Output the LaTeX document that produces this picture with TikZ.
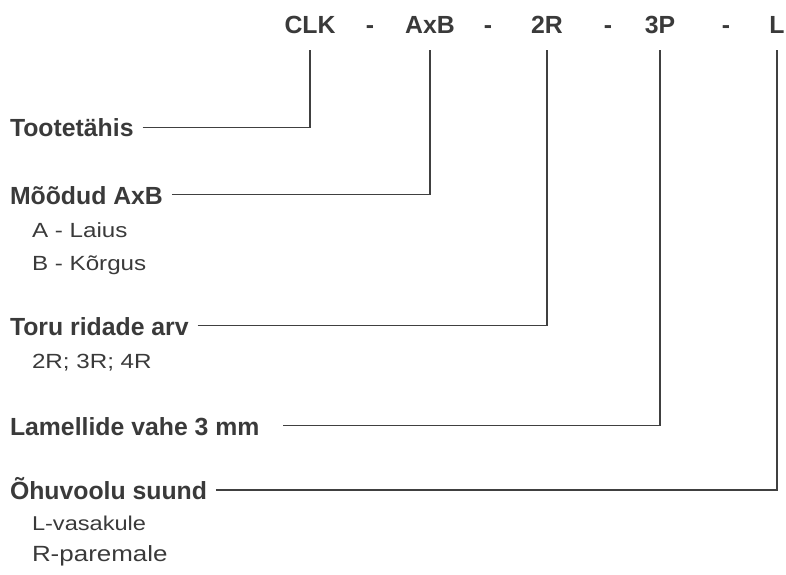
\documentclass[tikz,border=0pt]{standalone}
\usepackage{fontspec}
\setmainfont{Liberation Sans}
\newfontfamily\widefont[FakeStretch=1.18]{Liberation Sans}
\usepackage{xcolor}
\usepackage{tikz}
\definecolor{ink}{HTML}{3A3A3A}
\definecolor{rulegray}{HTML}{404040}
\newcommand{\headfont}{\fontsize{24.8}{28}\selectfont\bfseries}
\newcommand{\itemfont}[1]{\fontsize{#1}{#1}\selectfont\widefont}

\begin{document}
\begin{tikzpicture}[
			     x=1pt, y=-1pt,
			     codepart/.style={anchor=base, inner sep=0pt, outer ysep=16.5pt, text depth=0pt, font=\headfont, text=ink},
			     heading/.style={anchor=text, inner sep=0pt, outer xsep=9pt, text height=18.8pt, text depth=0pt, font=\headfont, text=ink},
			     detail/.style={anchor=text, inner sep=0pt, text=ink},
			     leader/.style={draw=rulegray, line width=1.4pt}
			     ]
\useasboundingbox (0,0) rectangle (786,574);
% code line
\node[codepart] (clk) at (310,33.3) {CLK};
\node[codepart] (d1) at (370,33.3) {-};
\node[codepart] (axb) at (430,33.3) {AxB};
\node[codepart] (d2) at (488,33.3) {-};
\node[codepart] (rows) at (547,33.3) {2R};
\node[codepart] (d3) at (608,33.3) {-};
\node[codepart] (fins) at (660,33.3) {3P};
\node[codepart] (d4) at (726,33.3) {-};
\node[codepart] (flow) at (777,33.3) {L};
% headings
\node[heading] (tootetahis) at (10,136.7) {Tootetähis};
\node[heading] (moodud) at (10,204) {Mõõdud AxB};
\node[heading] (toru) at (10,335) {Toru ridade arv};
\node[heading] (lamellid) at (10,435) {Lamellide vahe 3 mm\kern15pt};
\node[heading] (suund) at (10,499.3) {Õhuvoolu suund};
% details
\node[detail, font=\itemfont{20.5}] (laius) at (32,237.3) {A - Laius};
\node[detail, font=\itemfont{20.5}] (korgus) at (32,270) {B - Kõrgus};
\node[detail, font=\itemfont{20.5}] (ridu) at (32,368.3) {2R; 3R; 4R};
\node[detail, font=\itemfont{20}] (vasak) at (32,530) {L-vasakule};
\node[detail, font=\itemfont{22}] (parem) at (32,561.7) {R-paremale};
% leaders
\draw[leader] (tootetahis.east) -| (clk.south);
\draw[leader] (moodud.east) -| (axb.south);
\draw[leader] (toru.east) -| (rows.south);
\draw[leader] (lamellid.east) -| (fins.south);
\draw[leader] (suund.east) -| (flow.south);
\end{tikzpicture}
\end{document}
